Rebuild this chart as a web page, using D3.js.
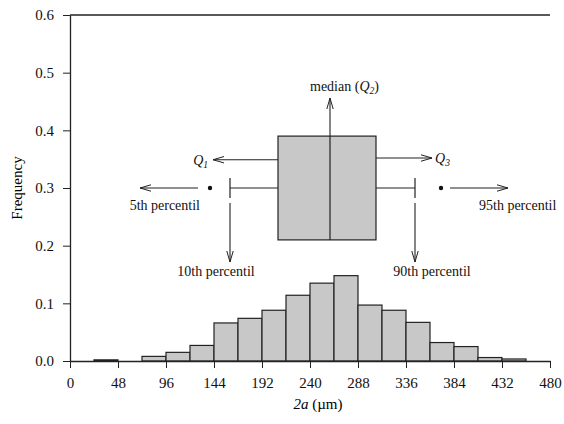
<!DOCTYPE html>
<html><head><meta charset="utf-8">
<script src="https://cdn.jsdelivr.net/npm/d3@7"></script>
<style>
html,body{margin:0;padding:0;background:#fff;}
svg{display:block;font-family:"Liberation Serif","Times New Roman",serif;}
</style></head>
<body><svg id="c" width="564" height="424"></svg>
<script>
// Histogram bins (µm) and frequencies
const binStarts = [24, 48, 72, 96, 120, 144, 168, 192, 216, 240, 264, 288, 312, 336, 360, 384, 408, 432];
const binWidth = 24;
const frequencies = [0.002, 0, 0.008, 0.015, 0.027, 0.066, 0.074, 0.088, 0.114, 0.135, 0.148, 0.097, 0.088, 0.067, 0.032, 0.025, 0.006, 0.0035];
const xTicks = [0, 48, 96, 144, 192, 240, 288, 336, 384, 432, 480];
const yTicks = [0.0, 0.1, 0.2, 0.3, 0.4, 0.5, 0.6];
// Box plot statistics (µm) drawn above the histogram
const boxStatNames = ["p5", "p10", "q1", "median", "q3", "p90", "p95"];
const boxStatValues = [140, 160, 208, 260, 306, 345, 371];
const boxLevels = [0.21, 0.3, 0.39]; // bottom, whisker level, top (frequency units)

const S = Object.fromEntries(boxStatNames.map((n, i) => [n, boxStatValues[i]]));

const svg = d3.select("#c");
const x = d3.scaleLinear().domain([0, 480]).range([70, 550]);
const y = d3.scaleLinear().domain([0, 0.6]).range([361, 15]);
const ink = "#222";
const fill = "#c8c8c8";

// defs: open arrowheads
const defs = svg.append("defs");
defs.append("marker").attr("id", "ah").attr("viewBox", "0 0 11 8")
  .attr("refX", 11).attr("refY", 4).attr("markerWidth", 11).attr("markerHeight", 8)
  .attr("markerUnits", "userSpaceOnUse").attr("orient", "auto")
  .append("path").attr("d", "M0,0.8 L11,4 L0,7.2").attr("fill", "none").attr("stroke", ink).attr("stroke-width", 1);

// bars
svg.append("g").selectAll("rect").data(binStarts.map((b, i) => ({b, f: frequencies[i]})).filter(d => d.f > 0))
  .join("rect")
  .attr("x", d => x(d.b)).attr("width", d => x(d.b + binWidth) - x(d.b))
  .attr("y", d => y(d.f)).attr("height", d => y(0) - y(d.f))
  .attr("fill", fill).attr("stroke", ink).attr("stroke-width", 1.2);

// axes
const xAxis = svg.append("g").attr("transform", `translate(0,${y(0)})`)
  .call(d3.axisBottom(x).tickValues(xTicks).tickSize(7).tickSizeOuter(0).tickPadding(9));
const yAxis = svg.append("g").attr("transform", `translate(${x(0)},0)`)
  .call(d3.axisLeft(y).tickValues(yTicks).tickFormat(d3.format(".1f")).tickSize(7).tickSizeOuter(0).tickPadding(9));
[xAxis, yAxis].forEach(a => {
  a.select(".domain").attr("stroke", ink).attr("stroke-width", 1.3);
  a.selectAll(".tick line").attr("stroke", ink);
  a.selectAll("text").attr("font-size", 15).attr("fill", "#111").attr("font-family", "Liberation Serif");
});
// top frame line
svg.append("line").attr("x1", x(0)).attr("x2", x(480)).attr("y1", y(0.6)).attr("y2", y(0.6))
  .attr("stroke", ink).attr("stroke-width", 1.3);

// axis titles
svg.append("text").attr("transform", `translate(22,${(y(0) + y(0.6)) / 2}) rotate(-90)`)
  .attr("text-anchor", "middle").attr("font-size", 15).text("Frequency");
const xt = svg.append("text").attr("x", 318).attr("y", 409)
  .attr("text-anchor", "middle").attr("font-size", 15);
xt.append("tspan").attr("font-style", "italic").text("2a");
xt.append("tspan").text(" (µm)");

// box plot
const bp = svg.append("g").attr("stroke", ink).attr("stroke-width", 1.2);
const yMid = y(boxLevels[1]);
bp.append("rect").attr("x", x(S.q1)).attr("width", x(S.q3) - x(S.q1))
  .attr("y", y(boxLevels[2])).attr("height", y(boxLevels[0]) - y(boxLevels[2])).attr("fill", fill);
bp.append("line").attr("x1", x(S.median)).attr("x2", x(S.median)).attr("y1", y(boxLevels[2])).attr("y2", y(boxLevels[0]));
bp.append("line").attr("x1", x(S.p10)).attr("x2", x(S.q1)).attr("y1", yMid).attr("y2", yMid);
bp.append("line").attr("x1", x(S.q3)).attr("x2", x(S.p90)).attr("y1", yMid).attr("y2", yMid);
[S.p10, S.p90].forEach(v => bp.append("line").attr("x1", x(v)).attr("x2", x(v)).attr("y1", yMid - 10).attr("y2", yMid + 10));
[S.p5, S.p95].forEach(v => svg.append("circle").attr("cx", x(v)).attr("cy", yMid).attr("r", 2.2).attr("fill", "#111"));

// annotation arrows
const ar = svg.append("g").attr("stroke", ink).attr("stroke-width", 1.1).attr("fill", "none");
function arrow(x1, y1, x2, y2) {
  ar.append("line").attr("x1", x1).attr("y1", y1).attr("x2", x2).attr("y2", y2).attr("marker-end", "url(#ah)");
}
arrow(x(S.p5) - 12, yMid, x(S.p5) - 70, yMid);
arrow(x(S.p95) + 9, yMid, x(S.p95) + 67, yMid);
arrow(x(S.p10), yMid + 15, x(S.p10), yMid + 74);
arrow(x(S.p90), yMid + 15, x(S.p90), yMid + 74);
const yQ1 = y(0.349), yQ3 = y(0.352);
arrow(x(S.q1), yQ1, x(S.q1) - 65, yQ1);
arrow(x(S.q3), yQ3, x(S.q3) + 56, yQ3);
arrow(x(S.median), y(boxLevels[2]), x(S.median), y(boxLevels[2]) - 38);

// annotation labels
const lab = svg.append("g").attr("font-size", 14).attr("fill", "#111");
lab.append("text").attr("x", x(S.p5) - 10).attr("y", yMid + 22).attr("text-anchor", "end").text("5th percentil");
lab.append("text").attr("x", x(S.p95) + 38).attr("y", yMid + 22).attr("text-anchor", "start").text("95th percentil");
lab.append("text").attr("x", x(S.p10) - 14).attr("y", yMid + 88).attr("text-anchor", "middle").text("10th percentil");
lab.append("text").attr("x", x(S.p90) + 17).attr("y", yMid + 88).attr("text-anchor", "middle").text("90th percentil");
function qLabel(xp, yp, anchor, sub) {
  const t = lab.append("text").attr("x", xp).attr("y", yp).attr("text-anchor", anchor);
  t.append("tspan").attr("font-style", "italic").text("Q");
  t.append("tspan").attr("font-style", "italic").attr("font-size", 9.5).attr("dy", 3).text(sub);
  return t;
}
qLabel(x(S.q1) - 70, yQ1 + 5, "end", "1");
qLabel(x(S.q3) + 59, yQ3 + 5, "start", "3");
const med = lab.append("text").attr("x", x(S.median) - 20).attr("y", y(boxLevels[2]) - 45).attr("text-anchor", "start");
med.append("tspan").text("median (");
med.append("tspan").attr("font-style", "italic").text("Q");
med.append("tspan").attr("font-style", "italic").attr("font-size", 9.5).attr("dy", 3).text("2");
med.append("tspan").attr("dy", -3).text(")");
</script></body></html>
